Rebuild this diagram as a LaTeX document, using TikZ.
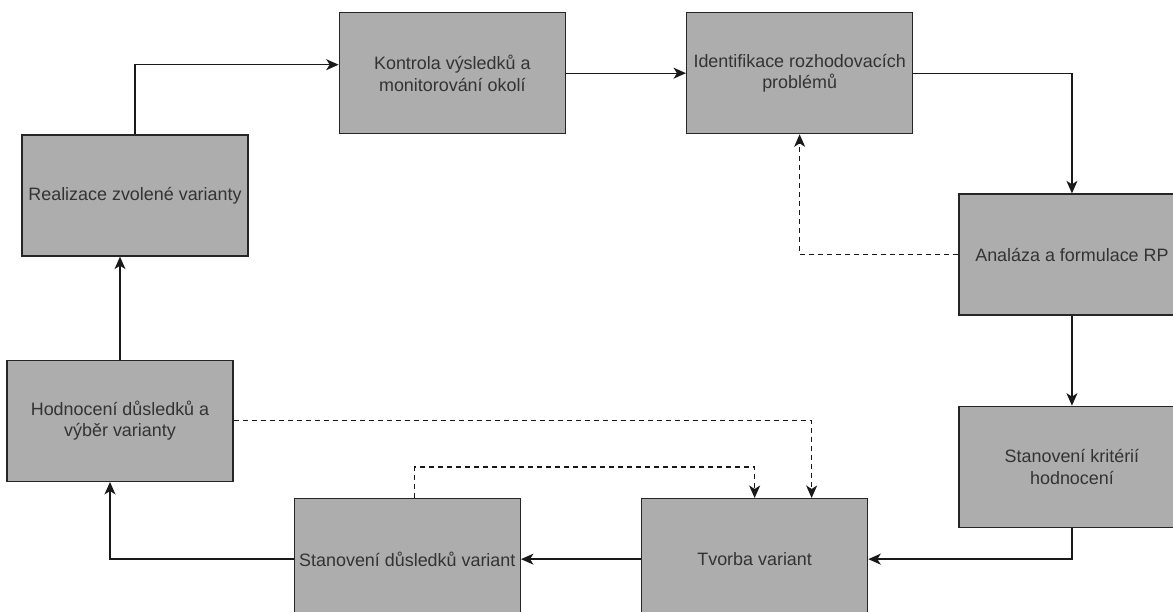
\documentclass[tikz,border=0pt]{standalone}
\usepackage{fontspec}
\setmainfont{Liberation Sans}
\usepackage{xcolor}
\usepackage{tikz}
\usetikzlibrary{arrows.meta, positioning}
\definecolor{stagegray}{RGB}{173,173,173}
\definecolor{textgray}{RGB}{51,51,51}
\tikzset{
    stage/.style={
        rectangle,
        draw=black!85,
        line width=0.75pt,
        minimum width=4.52cm,
        minimum height=2.42cm,
        fill=stagegray,
        text=textgray,
        align=center,
        inner sep=1pt,
        font=\fontsize{10.2}{12.2}\selectfont
    },
    flow/.style={
        draw=black!90,
        line width=0.75pt,
        -{Stealth[length=2.5mm,width=2.2mm,inset=0.7mm]}
    },
    feedback/.style={
        flow,
        dash pattern=on 1mm off 0.8mm
    }
}

\begin{document}
\begin{tikzpicture}
\useasboundingbox (0,0) rectangle (23.46,-12.24);

% Stages of the decision cycle
\node[stage] (real) at (2.7,-3.91) {Realizace zvolené varianty};
\node[stage, above right=0cm and 1.8cm of real] (kontr) {Kontrola výsledků a\\monitorování okolí};
\node[stage, right=2.4cm of kontr] (ident) {Identifikace rozhodovacích\\problémů};
\node[stage, below right=1.18cm and 0.9cm of ident] (anal) {Analáza a formulace RP};
\node[stage, below=1.8cm of anal] (krit) {Stanovení kritérií\\hodnocení};
\node[stage, below left=-0.6cm and 1.8cm of krit] (tvor) {Tvorba variant};
\node[stage, left=2.4cm of tvor] (dusl) {Stanovení důsledků variant};
\node[stage, above left=0.32cm and 1.2cm of dusl] (hodn) {Hodnocení důsledků a\\výběr varianty};

% Main cycle
\draw[flow] (real.north) |- ([yshift=0.17cm]kontr.west);
\draw[flow] (kontr) -- (ident);
\draw[flow] (ident.east) -| (anal.north);
\draw[flow] (anal) -- (krit);
\draw[flow] (krit.south) |- (tvor.east);
\draw[flow] (tvor) -- (dusl);
\draw[flow] (dusl.west) -| ([xshift=-0.2cm]hodn.south);
\draw[flow] (hodn.north) -- (hodn.north |- real.south);

% Feedback loops
\draw[feedback] (anal.west) -| (ident.south);
\draw[feedback] (hodn.east) -| ([xshift=1.14cm]tvor.north);
\draw[feedback] ([xshift=0.15cm]dusl.north) -- ++(0,0.62) -| (tvor.north);

\end{tikzpicture}
\end{document}
